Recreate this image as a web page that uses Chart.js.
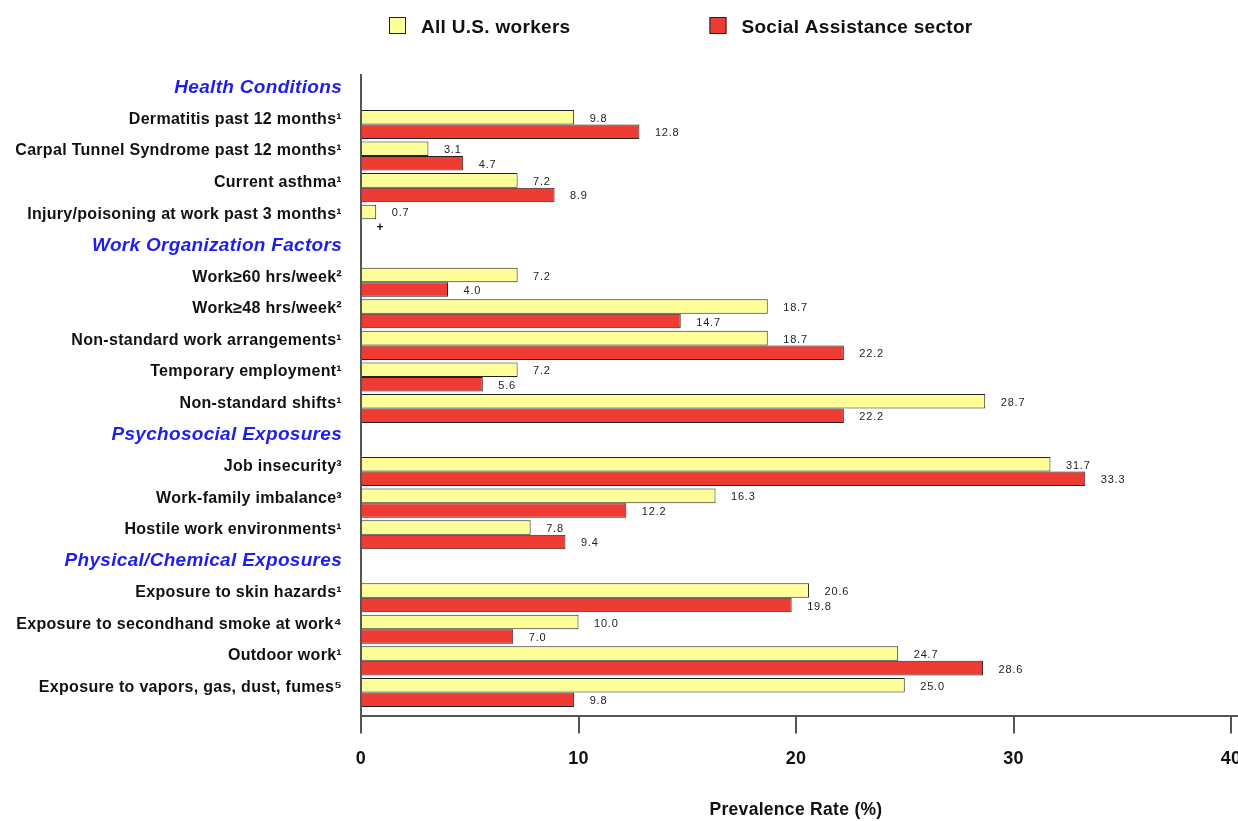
<!DOCTYPE html>
<html>
<head>
<meta charset="utf-8">
<script src="https://cdn.jsdelivr.net/npm/chart.js@4"></script>
<style>
html,body{margin:0;padding:0;background:#ffffff;}
#wrap{width:1238px;height:821px;position:relative;}
</style>
</head>
<body>
<div id="wrap"><canvas id="chart"></canvas></div>
<script>
// ---- data ----
const sectionHeaders = ['Health Conditions', 'Work Organization Factors', 'Psychosocial Exposures', 'Physical/Chemical Exposures'];
const categories = [
  'Health Conditions',
  'Dermatitis past 12 months\u00B9',
  'Carpal Tunnel Syndrome past 12 months\u00B9',
  'Current asthma\u00B9',
  'Injury/poisoning at work past 3 months\u00B9',
  'Work Organization Factors',
  'Work\u226560 hrs/week\u00B2',
  'Work\u226548 hrs/week\u00B2',
  'Non-standard work arrangements\u00B9',
  'Temporary employment\u00B9',
  'Non-standard shifts\u00B9',
  'Psychosocial Exposures',
  'Job insecurity\u00B3',
  'Work-family imbalance\u00B3',
  'Hostile work environments\u00B9',
  'Physical/Chemical Exposures',
  'Exposure to skin hazards\u00B9',
  'Exposure to secondhand smoke at work\u2074',
  'Outdoor work\u00B9',
  'Exposure to vapors, gas, dust, fumes\u2075'
];
const allWorkers = [null, 9.8, 3.1, 7.2, 0.7, null, 7.2, 18.7, 18.7, 7.2, 28.7, null, 31.7, 16.3, 7.8, null, 20.6, 10.0, 24.7, 25.0];
const socialAssistance = [null, 12.8, 4.7, 8.9, null, null, 4.0, 14.7, 22.2, 5.6, 22.2, null, 33.3, 12.2, 9.4, null, 19.8, 7.0, 28.6, 9.8];
const suppressedMarker = '+';
const xTicks = [0, 10, 20, 30, 40];
const seriesNames = ['All U.S. workers', 'Social Assistance sector'];

// ---- helpers ----
const FONT = '"Liberation Sans", Arial, Helvetica, sans-serif';
const AXIS = '#555';
const isHeader = i => sectionHeaders.includes(categories[i]);
const toPoints = vals => vals.map((v, i) => ({x: v, y: i})).filter(p => p.x !== null);

const spacingPlugin = {
  id: 'spacing',
  beforeDraw(chart) { chart.ctx.letterSpacing = '0.3px'; }
};

const valueLabels = {
  id: 'valueLabels',
  afterDatasetsDraw(chart) {
    const ctx = chart.ctx;
    const xs = chart.scales.x;
    ctx.save();
    ctx.letterSpacing = '0.8px';
    ctx.font = '11px ' + FONT;
    ctx.fillStyle = '#222';
    ctx.textAlign = 'left';
    ctx.textBaseline = 'middle';
    chart.data.datasets.forEach((ds, di) => {
      const meta = chart.getDatasetMeta(di);
      meta.data.forEach((el, j) => {
        const raw = ds.data[j];
        ctx.fillText(raw.x.toFixed(1), el.x + 15.5, el.y + 1.5);
      });
    });
    // suppressed estimates
    const m0 = chart.getDatasetMeta(0);
    const ds0 = chart.data.datasets[0];
    m0.data.forEach((el, j) => {
      const row = ds0.data[j].y;
      if (socialAssistance[row] === null) {
        ctx.font = 'bold 12px ' + FONT;
        ctx.fillStyle = '#111';
        ctx.fillText(suppressedMarker, xs.getPixelForValue(0) + 15.5, el.y + el.height + 1.5);
      }
    });
    ctx.restore();
  }
};

const customLegend = {
  id: 'customLegend',
  afterDraw(chart) {
    const ctx = chart.ctx;
    ctx.save();
    ctx.letterSpacing = '0.3px';
    ctx.font = 'bold 19px ' + FONT;
    ctx.textAlign = 'left';
    ctx.textBaseline = 'middle';
    let x = 389;
    const y = 17;
    chart.data.datasets.forEach(ds => {
      ctx.fillStyle = ds.backgroundColor;
      ctx.fillRect(x, y, 17, 17);
      ctx.strokeStyle = '#222';
      ctx.lineWidth = 1;
      ctx.strokeRect(x + 0.5, y + 0.5, 16, 16);
      ctx.fillStyle = '#111';
      ctx.fillText(ds.label, x + 32, y + 11);
      x += 32 + ctx.measureText(ds.label).width + 139;
    });
    // extend x-axis line to the right edge
    const ca = chart.chartArea;
    ctx.strokeStyle = AXIS;
    ctx.lineWidth = 2;
    ctx.beginPath();
    ctx.moveTo(ca.right - 1, Math.round(ca.bottom));
    ctx.lineTo(chart.width, Math.round(ca.bottom));
    ctx.stroke();
    ctx.restore();
  }
};

new Chart(document.getElementById('chart'), {
  type: 'bar',
  data: {
    datasets: [
      {label: seriesNames[0], data: toPoints(allWorkers), backgroundColor: '#FFFF99', borderColor: '#222', borderWidth: 1},
      {label: seriesNames[1], data: toPoints(socialAssistance), backgroundColor: '#EE3B33', borderColor: '#222', borderWidth: 1}
    ]
  },
  options: {
    indexAxis: 'y',
    responsive: true,
    maintainAspectRatio: false,
    animation: false,
    layout: {padding: {top: 75, right: 7, left: 0, bottom: 0}},
    datasets: {bar: {categoryPercentage: 0.92, barPercentage: 1}},
    plugins: {legend: {display: false}, tooltip: {enabled: false}},
    scales: {
      x: {
        type: 'linear', min: 0, max: 40, position: 'bottom',
        afterBuildTicks: s => { s.ticks = xTicks.map(v => ({value: v})); },
        afterFit: s => { s.paddingLeft = 0; s.paddingRight = 0; },
        ticks: {font: {family: FONT, size: 18, weight: 'bold'}, color: '#111', padding: 15},
        grid: {drawOnChartArea: false, drawTicks: true, tickLength: 17, color: AXIS, lineWidth: 2},
        border: {display: true, color: AXIS, width: 2},
        title: {display: true, text: 'Prevalence Rate (%)', color: '#111',
                font: {family: FONT, size: 17.5, weight: 'bold'}, padding: {top: 15, bottom: 0}}
      },
      y: {
        type: 'linear', reverse: true, min: -0.57, max: 19.76, offset: false,
        afterBuildTicks: s => { s.ticks = categories.map((_, i) => ({value: i})); },
        afterFit: s => { s.width = 361; },
        ticks: {
          autoSkip: false,
          padding: 19,
          labelOffset: -5,
          callback: v => categories[v],
          color: c => isHeader(c.index) ? '#1E1EF0' : '#111',
          font: c => isHeader(c.index)
            ? {family: FONT, size: 19, weight: 'bold', style: 'italic'}
            : {family: FONT, size: 16, weight: 'bold'}
        },
        grid: {display: false, drawTicks: false, offset: false},
        border: {display: true, color: AXIS, width: 2}
      }
    }
  },
  plugins: [spacingPlugin, valueLabels, customLegend]
});
</script>
</body>
</html>
